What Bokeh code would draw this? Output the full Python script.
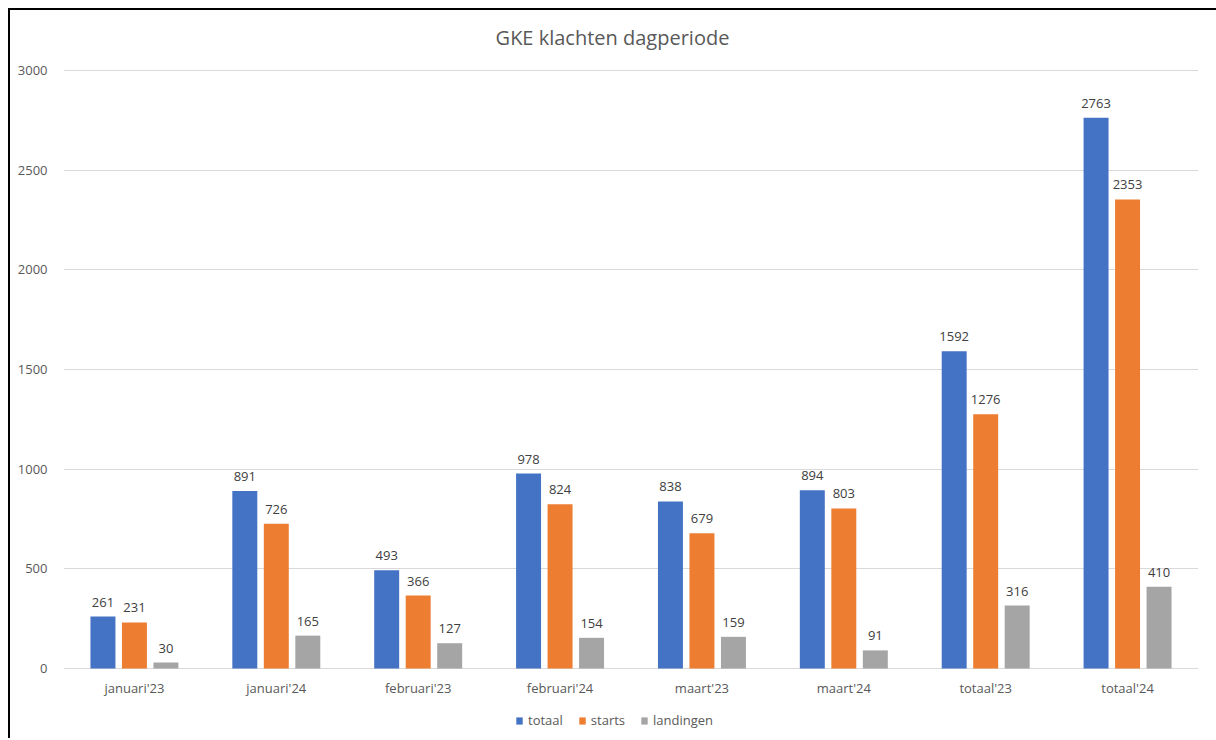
from bokeh.plotting import figure
from bokeh.models import ColumnDataSource, FactorRange, FixedTicker, Legend, LegendItem, LabelSet, Label, Range1d
from bokeh.transform import dodge
from bokeh.core.properties import value
from bokeh.embed import file_html
from bokeh.resources import INLINE

title_text = "GKE klachten dagperiode"
categories = ["januari'23", "januari'24", "februari'23", "februari'24",
              "maart'23", "maart'24", "totaal'23", "totaal'24"]
totaal = [261, 891, 493, 978, 838, 894, 1592, 2763]
starts = [231, 726, 366, 824, 679, 803, 1276, 2353]
landingen = [30, 165, 127, 154, 159, 91, 316, 410]
yticks = [0, 500, 1000, 1500, 2000, 2500, 3000]

series = [("totaal", totaal, "#4472C4", -0.222),
          ("starts", starts, "#ED7D31", 0.0),
          ("landingen", landingen, "#A5A5A5", 0.222)]

FONT = "Open Sans"

# frame spans the whole chart height; axis labels, title and legend sit inside it
p = figure(x_range=FactorRange(*categories), y_range=Range1d(-351, 3301),
           frame_width=1135, frame_height=728, output_backend="svg", toolbar_location=None,
           min_border_left=53, min_border_right=18, min_border_top=0, min_border_bottom=0)

p.margin = (8, 0, 0, 8)
p.styles = {"border-left": "2px solid black", "border-top": "2px solid black"}

title = Label(x=549, y=3165, x_units="screen", text=title_text, text_align="center",
              text_baseline="middle", text_font=FONT, text_font_size="20px", text_color="#595959")
p.add_layout(title)

items = []
for name, vals, color, off in series:
    src = ColumnDataSource(dict(cat=categories, val=vals, lab=[str(v) for v in vals]))
    r = p.vbar(x=dodge("cat", off, range=p.x_range), top="val", bottom=0, width=0.176,
               source=src, fill_color=color, line_color=None)
    items.append(LegendItem(label=name, renderers=[r]))
    labels = LabelSet(x=dodge("cat", off, range=p.x_range), y="val", text="lab", source=src,
                      text_align="center", text_baseline="bottom", y_offset=10,
                      text_font_size="13px", text_color="#404040", text_font=value(FONT))
    p.add_layout(labels)

p.outline_line_color = None
p.xgrid.grid_line_color = None
p.ygrid.grid_line_color = "#D9D9D9"
p.ygrid.grid_line_width = 1

p.yaxis.ticker = FixedTicker(ticks=yticks)
p.yaxis.axis_line_color = None
p.yaxis.major_tick_line_color = None
p.yaxis.minor_tick_line_color = None
p.yaxis.major_label_text_font = FONT
p.yaxis.major_label_text_font_size = "13px"
p.yaxis.major_label_text_color = "#595959"
p.yaxis.major_label_standoff = 10

p.xaxis.fixed_location = 0
p.xaxis.axis_line_color = None
p.xaxis.major_tick_line_color = None
p.xaxis.major_label_text_font = FONT
p.xaxis.major_label_text_font_size = "13px"
p.xaxis.major_label_text_color = "#595959"
p.xaxis.major_label_standoff = 4
p.x_range.range_padding = 0
p.x_range.group_padding = 0

legend = Legend(items=items, orientation="horizontal", location=(452, 9),
                glyph_width=8, glyph_height=9, label_standoff=5, spacing=15,
                label_text_font=FONT, label_text_font_size="13px", label_text_color="#595959",
                border_line_color=None, background_fill_alpha=0, padding=4, margin=0)
p.add_layout(legend)

open("out.html", "w").write(file_html(p, INLINE))
